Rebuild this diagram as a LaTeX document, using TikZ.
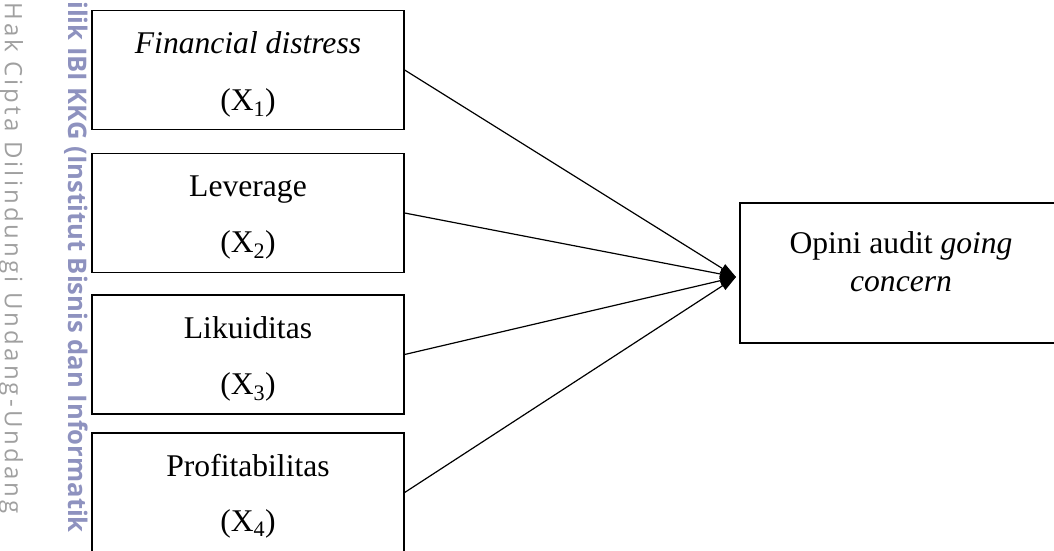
\documentclass[tikz,border=0pt]{standalone}
\usepackage{fontspec}
\setmainfont{Liberation Serif}
\newfontfamily\wmfont{Open Sans}
\newfontfamily\wmfontsp[LetterSpace=13]{Open Sans}
\usetikzlibrary{arrows.meta}
\definecolor{wmgrey}{RGB}{160,160,160}
\definecolor{wmblue}{RGB}{142,146,191}
\begin{document}
\begin{tikzpicture}[x=1pt,y=-1pt,
  box/.style={draw=black,line width=1.3pt,inner sep=0pt},
  lbox/.style={box,minimum width=312pt,minimum height=119pt},
  lbl/.style={font=\fontsize{31.6}{36}\selectfont,inner sep=0pt,anchor=base},
  link/.style={line width=1.2pt,-{Triangle[length=16pt,width=10pt]}},
  wm/.style={rotate=-90,anchor=base west,inner sep=0pt}]
\useasboundingbox (0,0) rectangle (1054,551);
\clip (0,0) rectangle (1054,551);
% watermarks
\node[wm,text=wmgrey,font=\wmfontsp\fontsize{24}{24}\selectfont] (wm1) at (5,2) {Hak Cipta Dilindungi Undang-Undang};
\node[wm,text=wmblue,font=\wmfont\bfseries\fontsize{25.6}{26}\selectfont] (wm2) at (68,1) {ilik IBI KKG (Institut Bisnis dan Informatik};
% boxes
\node[lbox] (b1) at (248,70) {};
\node[lbox] (b2) at (248,213) {};
\node[lbox] (b3) at (248,354.5) {};
\node[lbox] (b4) at (248,492.5) {};
\node[box,minimum width=322pt,minimum height=140pt] (y) at (901,273) {};
% texts
\node[lbl] (t1a) at (248,54) {\textit{Financial distress}};
\node[lbl] (t1b) at (248,110) {(X\textsubscript{1})};
\node[lbl] (t2a) at (248,196) {Leverage};
\node[lbl] (t2b) at (248,252) {(X\textsubscript{2})};
\node[lbl] (t3a) at (248,338) {Likuiditas};
\node[lbl] (t3b) at (248,394) {(X\textsubscript{3})};
\node[lbl] (t4a) at (248,476) {Profitabilitas};
\node[lbl] (t4b) at (248,531) {(X\textsubscript{4})};
\node[lbl] (ya) at (901,253) {Opini audit \textit{going}};
\node[lbl] (yb) at (901,291) {\textit{concern}};
% connectors
\coordinate (tip) at (736,277);
\draw[link] (b1.east) -- (tip);
\draw[link] (b2.east) -- (tip);
\draw[link] (b3.east) -- (tip);
\draw[link] (b4.east) -- (tip);
\end{tikzpicture}
\end{document}
